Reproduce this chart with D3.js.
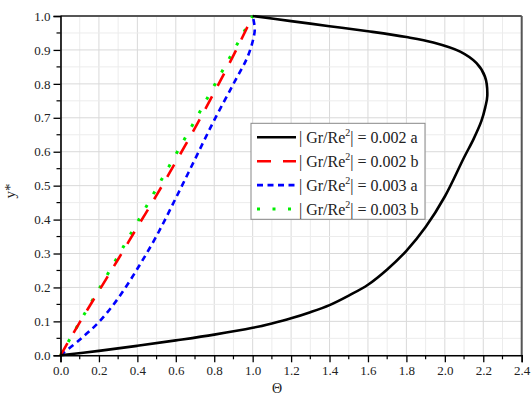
<!DOCTYPE html>
<html><head><meta charset="utf-8">
<script src="https://cdn.jsdelivr.net/npm/d3@7/dist/d3.min.js"></script>
<style>html,body{margin:0;padding:0;background:#fff;}svg{display:block;}
text{font-family:"Liberation Serif","Times New Roman",serif;}</style>
</head><body>
<script>
// ---- data ----
const seriesNames = ["0.002 a", "0.002 b", "0.003 a", "0.003 b"];
const seriesColors = ["#000000", "#ff0000", "#0000ff", "#00ee00"];

const theta_002a = [0, 0.2, 0.4, 0.6, 0.8, 1.0, 1.1, 1.2, 1.3, 1.4, 1.5, 1.6, 1.7, 1.8, 1.9, 2.0, 2.1, 2.15, 2.19, 2.21, 2.221, 2.209, 2.165, 2.08, 1.94, 1.8, 1.6, 1.4, 1.2, 1.0];
const y_002a     = [0, 0.013, 0.028, 0.044, 0.061, 0.081, 0.094, 0.109, 0.127, 0.148, 0.176, 0.208, 0.253, 0.308, 0.378, 0.468, 0.583, 0.638, 0.69, 0.73, 0.765, 0.821, 0.861, 0.895, 0.922, 0.938, 0.955, 0.97, 0.985, 1.0];

const theta_002b = [0, 0.1, 0.2, 0.3, 0.4, 0.5, 0.6, 0.7, 0.8, 0.9, 1.0];
const y_002b     = [0, 0.097, 0.19, 0.283, 0.378, 0.472, 0.57, 0.67, 0.775, 0.884, 1.0];

const theta_003a = [0, 0.1, 0.2, 0.3, 0.4, 0.5, 0.6, 0.7, 0.8, 0.9, 0.97, 1.0, 1.011, 1.0];
const y_003a     = [0, 0.046, 0.098, 0.168, 0.255, 0.352, 0.463, 0.578, 0.693, 0.80, 0.875, 0.925, 0.962, 1.0];

const theta_003b = [0, 0.1, 0.2, 0.3, 0.4, 0.5, 0.6, 0.7, 0.8, 0.9, 1.0];
const y_003b     = [0, 0.098, 0.195, 0.293, 0.392, 0.492, 0.592, 0.692, 0.795, 0.897, 1.0];

const xTicks = [0, 0.2, 0.4, 0.6, 0.8, 1.0, 1.2, 1.4, 1.6, 1.8, 2.0, 2.2, 2.4];
const yTicks = [0, 0.1, 0.2, 0.3, 0.4, 0.5, 0.6, 0.7, 0.8, 0.9, 1.0];
const xTitle = "Θ";
const yTitle = "y*";

// ---- layout ----
const W = 531, H = 395;
const L = 60.5, R = 521.7, T = 16, B = 355.3;
const serif = "Liberation Serif, Times New Roman, serif";

const svg = d3.select("body").append("svg").attr("width", W).attr("height", H);
const x = d3.scaleLinear().domain([0, 2.4]).range([L, R]);
const y = d3.scaleLinear().domain([0, 1]).range([B, T]);

// grid
const g = svg.append("g");
const xMinor = d3.range(0, 2.41, 0.1);
const yMinor = d3.range(0, 1.001, 0.05);
g.selectAll(".gx").data(xMinor).join("line")
  .attr("x1", d => x(d)).attr("x2", d => x(d)).attr("y1", T).attr("y2", B)
  .attr("stroke", (d, i) => i % 2 === 0 ? "#d9d9d9" : "#ececec").attr("stroke-width", 1);
g.selectAll(".gy").data(yMinor).join("line")
  .attr("y1", d => y(d)).attr("y2", d => y(d)).attr("x1", L).attr("x2", R)
  .attr("stroke", (d, i) => i % 2 === 0 ? "#d9d9d9" : "#ececec").attr("stroke-width", 1);

// frame top/right
svg.append("line").attr("x1", L).attr("x2", R).attr("y1", T).attr("y2", T).attr("stroke", "#555").attr("stroke-width", 2);
svg.append("line").attr("x1", R).attr("x2", R).attr("y1", T).attr("y2", B).attr("stroke", "#555").attr("stroke-width", 2);

// curves
const series = [
  {th: theta_002a, yy: y_002a, dash: null, w: 2.6},
  {th: theta_002b, yy: y_002b, dash: "14,12", w: 2.6},
  {th: theta_003a, yy: y_003a, dash: "6,4.5", w: 2.6},
  {th: theta_003b, yy: y_003b, dash: "3,12.5", w: 3}
];
const line = d3.line().x(d => x(d[0])).y(d => y(d[1])).curve(d3.curveCatmullRom.alpha(0.5));
const plot = svg.append("g");
[3, 2, 1, 0].forEach(i => {
  const s = series[i];
  const pts = s.th.map((t, j) => [t, s.yy[j]]);
  plot.append("path").attr("d", line(pts)).attr("fill", "none")
    .attr("stroke", seriesColors[i]).attr("stroke-width", s.w)
    .attr("stroke-dasharray", s.dash).attr("stroke-linecap", "butt");
});

// axes
const xAxis = d3.axisBottom(x).tickValues(xTicks).tickFormat(d3.format(".1f")).tickSize(7).tickPadding(3);
const yAxis = d3.axisLeft(y).tickValues(yTicks).tickFormat(d3.format(".1f")).tickSize(7).tickPadding(3);
const gx = svg.append("g").attr("transform", `translate(0,${B})`).call(xAxis);
const gy = svg.append("g").attr("transform", `translate(${L},0)`).call(yAxis);
[gx, gy].forEach(a => {
  a.attr("font-family", serif).attr("font-size", 13);
  a.select(".domain").attr("stroke", "#000").attr("stroke-width", 1.6);
  a.selectAll(".tick line").attr("stroke", "#000").attr("stroke-width", 1.3);
  a.selectAll(".tick text").style("font-family", serif).style("font-size", "13px").attr("fill", "#222");
});
// minor ticks
svg.append("g").selectAll("line").data(d3.range(0.1, 2.4, 0.2)).join("line")
  .attr("x1", d => x(d)).attr("x2", d => x(d)).attr("y1", B).attr("y2", B + 4)
  .attr("stroke", "#000").attr("stroke-width", 1.2);
svg.append("g").selectAll("line").data(d3.range(0.05, 1, 0.1)).join("line")
  .attr("y1", d => y(d)).attr("y2", d => y(d)).attr("x1", L - 4).attr("x2", L)
  .attr("stroke", "#000").attr("stroke-width", 1.2);

// titles
svg.append("text").attr("x", 277).attr("y", 393).attr("text-anchor", "middle")
  .style("font-family", serif).attr("font-size", 14).attr("fill", "#222").text(xTitle);
svg.append("text").attr("transform", "translate(15,191) rotate(-90)").attr("text-anchor", "middle")
  .style("font-family", serif).attr("font-size", 15).attr("fill", "#222").text(yTitle);

// legend
const lg = svg.append("g");
lg.append("rect").attr("x", 251).attr("y", 123.3).attr("width", 174).attr("height", 96)
  .attr("fill", "#fff").attr("stroke", "#888").attr("stroke-width", 1);
seriesNames.forEach((name, i) => {
  const ly = 137.3 + i * 23.9;
  lg.append("line").attr("x1", 257).attr("x2", 296).attr("y1", ly).attr("y2", ly)
    .attr("stroke", seriesColors[i]).attr("stroke-width", series[i].w)
    .attr("stroke-dasharray", series[i].dash);
  const t = lg.append("text").attr("x", 299).attr("y", ly + 6)
    .style("font-family", serif).attr("font-size", 16).attr("fill", "#222");
  t.append("tspan").text("| Gr/Re");
  t.append("tspan").attr("font-size", 10).attr("dy", -7).text("2");
  t.append("tspan").attr("dy", 7).text("| = " + name);
});
</script>
</body></html>
